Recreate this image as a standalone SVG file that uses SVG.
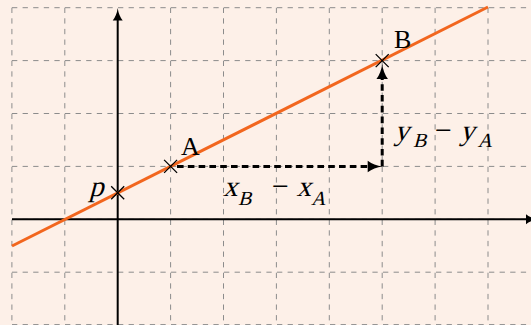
<svg xmlns="http://www.w3.org/2000/svg" width="531" height="325" viewBox="0 0 531 325">
  <style>
    .grid { fill: none; stroke: #8c8c8c; stroke-width: 1; stroke-dasharray: 5.3 5.3; }
    .axis { fill: none; stroke: #000; stroke-width: 2; }
    .line { fill: none; stroke: #F2661E; stroke-width: 3; }
    .dash { fill: none; stroke: #000; stroke-width: 3; stroke-dasharray: 6.6 4.2; }
    .cross { fill: none; stroke: #000; stroke-width: 1.3; }
    .lbl { font-family: "Liberation Serif", "Times New Roman", serif; fill: #000; }
    .m { font-family: "Liberation Serif", "Times New Roman", serif; fill: #000; }
    .up { font-family: "Liberation Serif", "Times New Roman", serif; fill: #000; }
  </style>
  <defs>
    <marker id="axarrow" markerUnits="userSpaceOnUse" markerWidth="13" markerHeight="11" refX="6" refY="5" orient="auto" viewBox="0 0 13 10" overflow="visible">
      <path d="M0,0 Q5,4 12.5,5 Q5,6 0,10 Z" fill="#000"/>
    </marker>
    <marker id="dasharrow" markerUnits="userSpaceOnUse" markerWidth="15" markerHeight="12" refX="7" refY="5.75" orient="auto" viewBox="0 0 15 11.5" overflow="visible">
      <path d="M0,0 Q6,4.6 15,5.75 Q6,6.9 0,11.5 Z" fill="#000"/>
    </marker>
  </defs>

  <rect x="0" y="0" width="531" height="325" fill="#FDF0E8"/>

  <!-- grid -->
  <path class="grid" d="
    M12,7.7 H540 M12,60.6 H540 M12,113.5 H540 M12,166.4 H540 M12,219.3 H540 M12,272.2 H540 M12,324.6 H540
    M11.9,7.7 V325 M64.8,7.7 V325 M170.6,7.7 V325 M223.5,7.7 V325 M276.4,7.7 V325 M329.3,7.7 V325 M382.2,7.7 V325 M435.1,7.7 V325 M488,7.7 V325"/>

  <!-- axes -->
  <g id="axes">
    <line class="axis" x1="12" y1="219.3" x2="532" y2="219.3" marker-end="url(#axarrow)"/>
    <line class="axis" x1="117.7" y1="325" x2="117.7" y2="14.5" marker-end="url(#axarrow)"/>
  </g>

  <!-- orange line -->
  <line class="line" x1="12" y1="246" x2="488" y2="7"/>

  <!-- connectors -->
  <g id="connectors">
    <line class="dash" x1="177" y1="166.4" x2="374.7" y2="166.4" marker-end="url(#dasharrow)"/>
    <line class="dash" x1="382.2" y1="166.4" x2="382.2" y2="72" marker-end="url(#dasharrow)"/>
    <g id="label-dx">
      <text class="m" transform="translate(223,195.5) skewX(-15)" font-size="29">x</text>
      <text class="m" transform="translate(238,205) skewX(-15)" font-size="20">B</text>
      <text class="up" x="272" y="195.5" font-size="30">−</text>
      <text class="m" transform="translate(296.5,195.5) skewX(-15)" font-size="29">x</text>
      <text class="m" transform="translate(311,205) skewX(-15)" font-size="20">A</text>
    </g>
    <g id="label-dy">
      <text class="m" transform="translate(394.5,139.5) skewX(-15)" font-size="29">y</text>
      <text class="m" transform="translate(413,147) skewX(-15)" font-size="20">B</text>
      <text class="up" x="435" y="139.5" font-size="30">−</text>
      <text class="m" transform="translate(460,139.5) skewX(-15)" font-size="29">y</text>
      <text class="m" transform="translate(477.5,147) skewX(-15)" font-size="20">A</text>
    </g>
  </g>

  <!-- points -->
  <g id="point-p">
    <path class="cross" d="M111.2,186.3 L124.2,199.3 M111.2,199.3 L124.2,186.3"/>
    <text class="m" transform="translate(89,196) skewX(-15)" font-size="29">p</text>
  </g>
  <g id="point-A">
    <path class="cross" d="M164.1,159.9 L177.1,172.9 M164.1,172.9 L177.1,159.9"/>
    <text class="lbl" x="181" y="155" font-size="26">A</text>
  </g>
  <g id="point-B">
    <path class="cross" d="M375.7,54.1 L388.7,67.1 M375.7,67.1 L388.7,54.1"/>
    <text class="lbl" x="394" y="48" font-size="26">B</text>
  </g>
</svg>
